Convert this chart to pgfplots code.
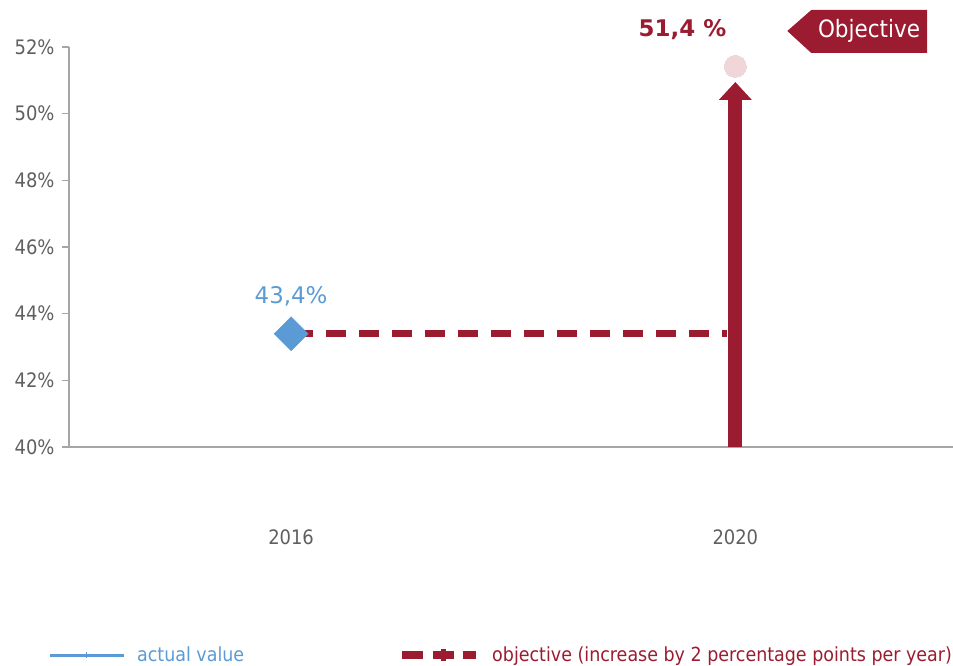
\documentclass[border=0pt]{standalone}
\usepackage{pgfplots}
\pgfplotsset{compat=1.18}
\usepackage{fontspec}
\setmainfont{DejaVu Sans}
\newfontfamily\condfont{DejaVu Sans Condensed}
\usetikzlibrary{arrows.meta}
\definecolor{dred}{RGB}{155,28,49}
\definecolor{lblue}{RGB}{91,155,213}
\definecolor{lpink}{RGB}{240,214,217}
\definecolor{tickgray}{RGB}{95,95,95}
\definecolor{axgray}{RGB}{166,166,166}
\begin{document}
\begin{tikzpicture}
\begin{axis}[
  at={(0,0)}, anchor=south west,
  scale only axis, width=884bp, height=400bp,
  xmin=-0.5, xmax=1.49, ymin=40, ymax=52,
  axis x line*=bottom, axis y line*=left,
  axis line style={axgray, line width=1.5bp},
  xtick={0,1}, xticklabels={2016,2020},
  major x tick style={draw=none},
  extra x ticks={-0.5,0.5}, extra x tick labels={},
  extra x tick style={major tick length=8bp, tick style={axgray, line width=1.5bp}},
  xticklabel style={yshift=-72bp, font=\condfont\fontsize{20}{20}\selectfont},
  ytick={40,42,...,52},
  yticklabel={\pgfmathprintnumber{\tick}\%},
  yticklabel style={xshift=-4bp},
  tick align=outside, major tick length=7bp,
  tick style={axgray, line width=1.5bp},
  tick label style={font=\condfont\fontsize{20}{20}\selectfont, text=tickgray},
  /pgf/number format/assume math mode=true,
  clip=false,
  legend columns=2,
  legend style={at={(rel axis cs:-0.0238,-0.52)}, anchor=west, draw=none, fill=none,
    inner sep=0pt, font=\condfont\fontsize{19.5}{19.5}\selectfont,
    /tikz/every even column/.append style={column sep=156bp}},
]
\addplot[lblue, only marks, mark=square*, mark size=12bp, mark options={rotate=45},
  legend image code/.code={
    \draw[lblue, solid, line width=3bp] (0bp,0bp) -- (74bp,0bp);
    \draw[lblue, solid, line width=1.2bp] (37bp,-3bp) -- (37bp,3bp);}]
  coordinates {(0,43.4)};
\addlegendentry{\hspace{10bp}\textcolor{lblue}{actual value}}
\addplot[dred, line width=7.5bp, dash pattern=on 20bp off 13bp,
  legend image code/.code={
    \fill[dred, draw=none, solid] (0bp,-4.4bp) rectangle (21bp,4.4bp);
    \fill[dred, draw=none, solid] (31bp,-4.4bp) rectangle (52bp,4.4bp);
    \fill[dred, draw=none, solid] (39bp,-5.8bp) rectangle (44bp,5.8bp);
    \fill[dred, draw=none, solid] (61bp,-4.4bp) rectangle (74bp,4.4bp);}]
  coordinates {(0.005,43.4) (0.982,43.4)};
\addlegendentry{\hspace{14bp}\textcolor{dred}{objective (increase by 2 percentage points per year)}}
\addplot[dred, line width=14bp, -{Triangle[width=32bp,length=18bp]}, forget plot]
  coordinates {(1,40) (1,50.95)};
\addplot[only marks, mark=*, mark size=11bp, mark options={fill=lpink, draw=lpink, line width=0pt}, forget plot]
  coordinates {(1,51.42)};
\node[text=lblue, font=\fontsize{23}{23}\selectfont] at (axis cs:0,44.53) {43,4\%};
\node[text=dred, font=\bfseries\fontsize{23}{23}\selectfont] at (axis cs:0.881,52.51) {51,4 \%};
\fill[dred] (axis cs:1.117,52.48) -- (axis cs:1.171,53.11) -- (axis cs:1.4315,53.11)
  -- (axis cs:1.4315,51.82) -- (axis cs:1.171,51.82) -- cycle;
\node[text=white, font=\condfont\fontsize{24}{24}\selectfont] at (axis cs:1.301,52.47) {Objective};
\end{axis}
\pgfresetboundingbox
\useasboundingbox (-69bp,-219bp) rectangle (884bp,447bp);
\end{tikzpicture}
\end{document}
